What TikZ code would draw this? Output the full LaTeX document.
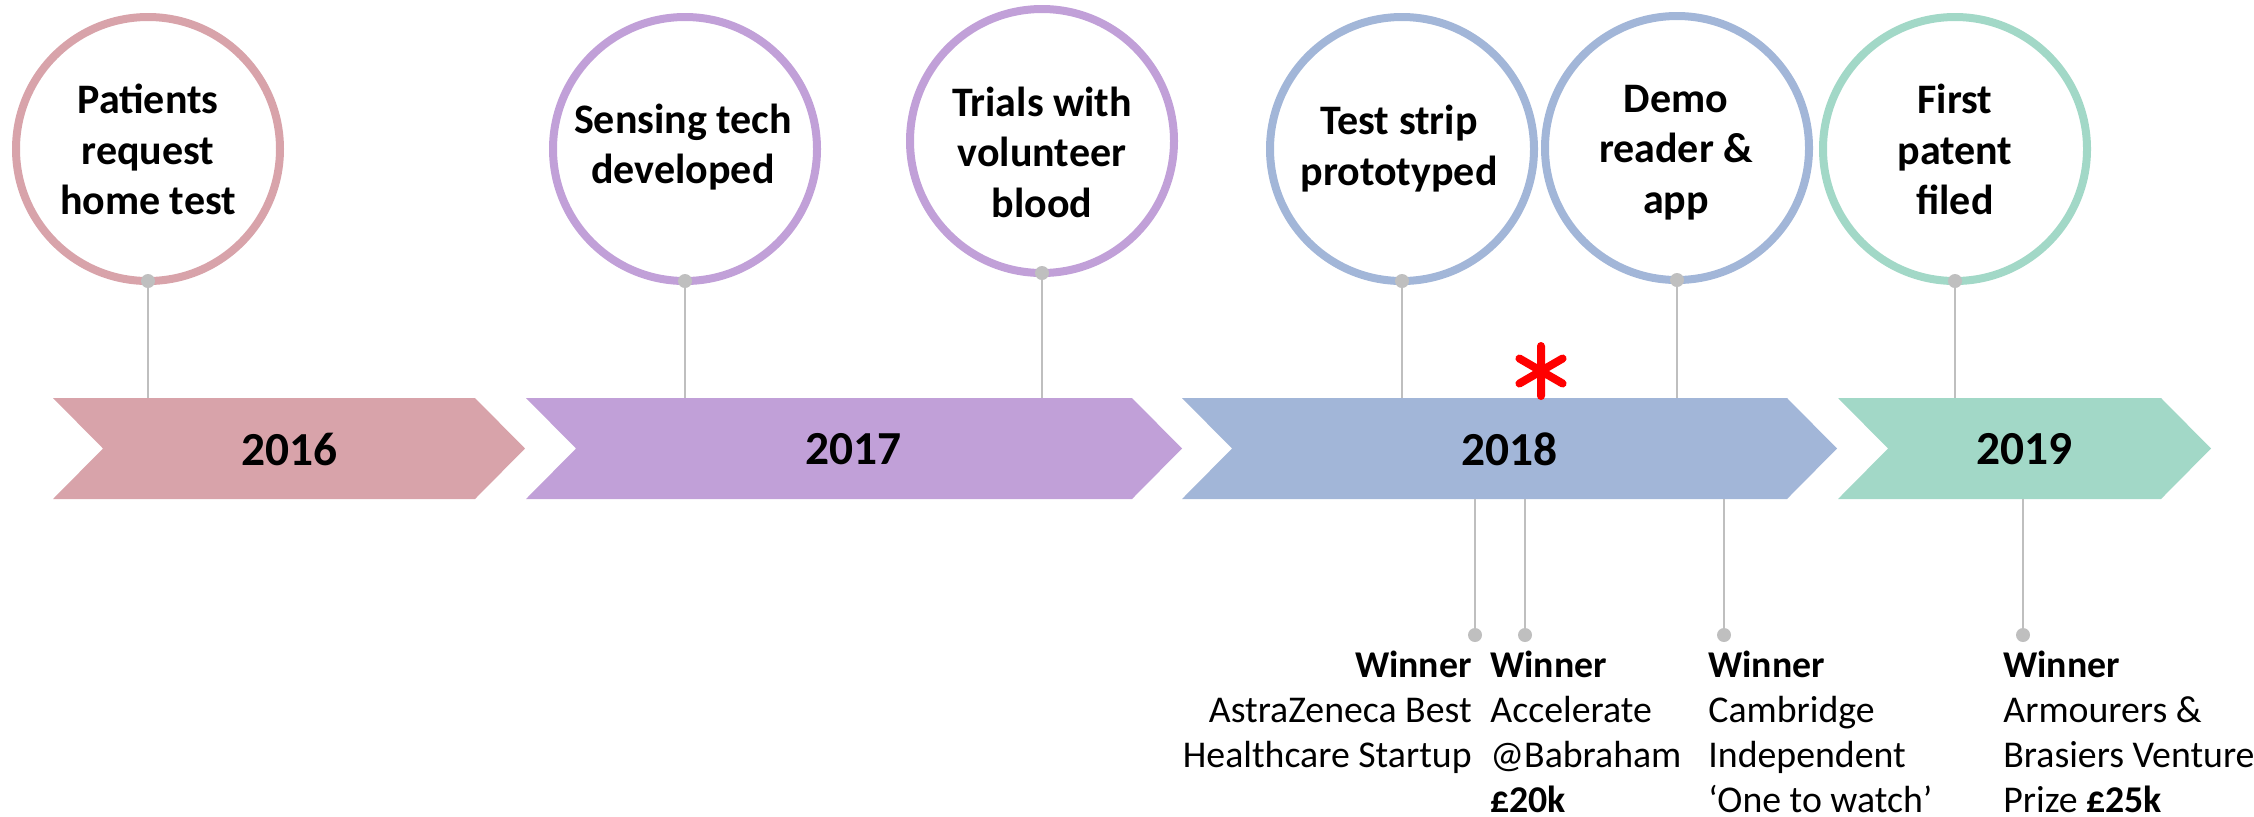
\documentclass[tikz,border=0pt]{standalone}
\usepackage{fontspec}
\setmainfont{Carlito}

\definecolor{rose}{HTML}{D8A3AA}
\definecolor{lilac}{HTML}{C1A0D8}
\definecolor{steel}{HTML}{A2B6D8}
\definecolor{mint}{HTML}{A2D8C7}
\definecolor{stemgray}{HTML}{BFBFBF}

\begin{document}
\begin{tikzpicture}[x=0.5pt,y=-0.5pt,
  ring/.style={circle,draw=#1,line width=4pt,minimum size=132pt,inner sep=0pt,outer sep=0pt},
  event/.style={align=center,inner sep=0pt,font=\fontsize{21}{25.25}\selectfont\bfseries},
  yearlabel/.style={inner sep=0pt,font=\fontsize{23.7}{27}\selectfont\bfseries},
  prize/.style={inner sep=0pt,font=\fontsize{18.9}{22.4}\selectfont},
  stem/.style={draw=stemgray,line width=1pt},
  knob/.style={circle,fill=stemgray,inner sep=0pt,minimum size=7pt}]

  \newcommand\ChTop{398}
  \newcommand\ChBot{499}
  \newcommand\ChMid{448.5}
  \newcommand\ChDep{50}

  \useasboundingbox (0,0) rectangle (2254,816); %% page size

  %% year chevrons
  \newcommand\chev[3]{\fill[#1] (#2,\ChTop) -- (#3-\ChDep,\ChTop) -- (#3,\ChMid)
    -- (#3-\ChDep,\ChBot) -- (#2,\ChBot) -- (#2+\ChDep,\ChMid) -- cycle;}
  \chev{rose}{53}{525}
  \chev{lilac}{526}{1182}
  \chev{steel}{1182}{1837}
  \chev{mint}{1838}{2211}

  \node[yearlabel] (y16) at (289.5,449.5) {2016};
  \node[yearlabel] (y17) at (853.5,449.5) {2017};
  \node[yearlabel] (y18) at (1509.5,449.5) {2018};
  \node[yearlabel] (y19) at (2024.5,449.5) {2019};

  %% red star
  \draw[red,line width=4pt,line cap=round] (1541,346) -- (1541,396)
    (1519.4,358.5) -- (1562.6,383.5) (1519.4,383.5) -- (1562.6,358.5);

  %% milestones
  \node[ring=rose]  (e1) at (148,149) {};
  \node[ring=lilac] (e2) at (685,149) {};
  \node[ring=lilac] (e3) at (1042,141) {};
  \node[ring=steel] (e4) at (1402,149) {};
  \node[ring=steel] (e5) at (1677,148) {};
  \node[ring=mint]  (e6) at (1955,149) {};

  \node[event] (t1) at (148,149.5) {Patients\\request\\home test};
  \node[event] (t2) at (683,147) {Sensing tech\\developed};
  \node[event] (t3) at (1042,152) {Trials with\\volunteer\\blood};
  \node[event] (t4) at (1399,148.5) {Test strip\\prototyped};
  \node[event] (t5) at (1676,152.5) {Demo\\reader \&\\app};
  \node[event] (t6) at (1955,149.5) {First\\patent\\filed};

  \foreach \e in {1,...,6}{
    \coordinate (a\e) at (e\e.south |- 0,\ChTop);
    \draw[stem] (e\e.south) -- (a\e);
    \node[knob] (k\e) at (e\e.south) {};
  }

  %% prizes
  \foreach \n/\x in {1/1475,2/1525,3/1724,4/2023}{
    \coordinate (b\n) at (\x,\ChBot);
    \node[knob] (p\n) at (\x,635) {};
    \draw[stem] (b\n) -- (p\n);
  }

  \node[prize,align=right,anchor=north east] (w1) at (1472,651)
    {\textbf{Winner}\\AstraZeneca Best\\Healthcare Startup};
  \node[prize,align=left,anchor=north west] (w2) at (1490,651)
    {\textbf{Winner}\\Accelerate\\@Babraham\\\textbf{£20k}};
  \node[prize,align=left,anchor=north west] (w3) at (1708,651)
    {\textbf{Winner}\\Cambridge\\Independent\\‘One to watch’};
  \node[prize,align=left,anchor=north west] (w4) at (2003,651)
    {\textbf{Winner}\\Armourers \&\\Brasiers Venture\\Prize \textbf{£25k}};

\end{tikzpicture}
\end{document}
